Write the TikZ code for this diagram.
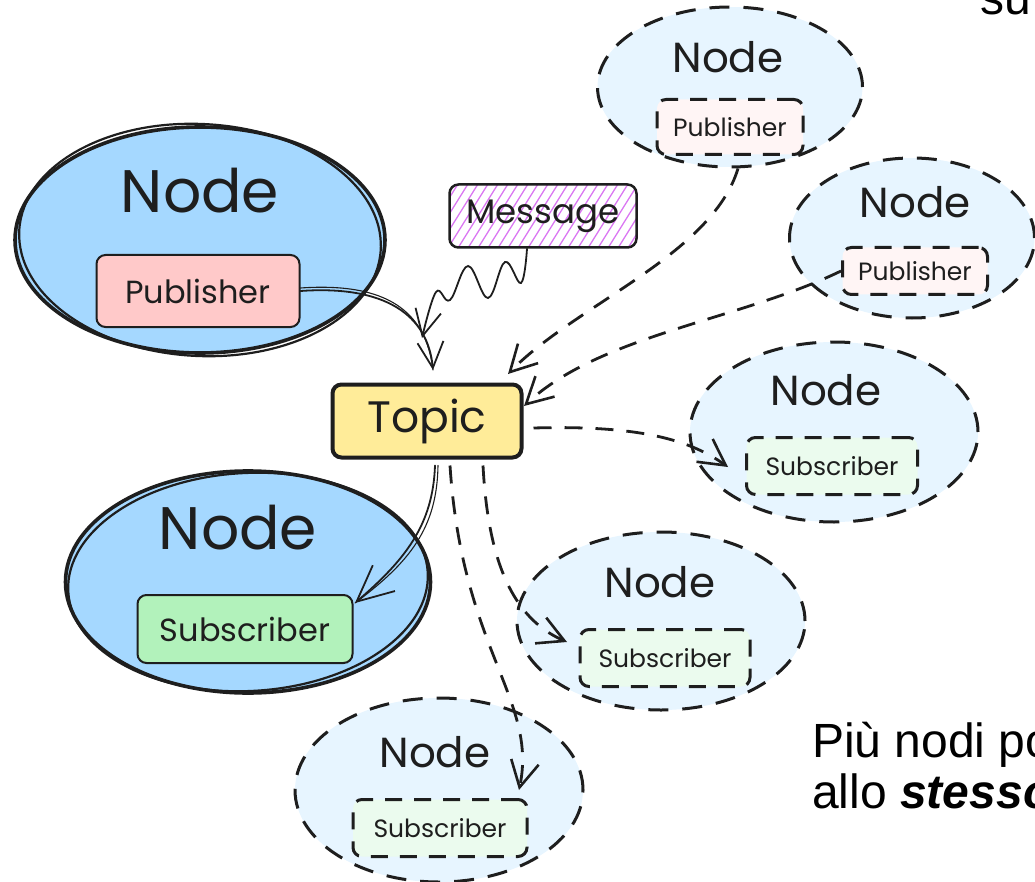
\documentclass[tikz,border=0pt]{standalone}
\usepackage{fontspec}
\setmainfont{Poppins}
\newfontfamily\notefont{Liberation Sans}
\usetikzlibrary{shapes.geometric,arrows.meta,calc}

\definecolor{ink}{HTML}{1E1E1E}
\definecolor{procfill}{HTML}{A5D8FF}
\definecolor{proclight}{HTML}{E7F5FF}
\definecolor{pubfill}{HTML}{FFC9C9}
\definecolor{publight}{HTML}{FFF5F5}
\definecolor{subfill}{HTML}{B2F2BB}
\definecolor{sublight}{HTML}{EBFBEE}
\definecolor{topicfill}{HTML}{FFEC99}
\definecolor{hatchcol}{HTML}{DA77F2}

\tikzset{
  procsolid/.style={ellipse, draw=ink, fill=procfill, line width=3.6pt, inner sep=0pt},
  procdash/.style={ellipse, draw=ink, fill=proclight, line width=3pt,
    dash pattern=on 20pt off 14pt, inner sep=0pt},
  boxsolid/.style={draw=ink, rounded corners=9pt, line width=2pt, inner sep=0pt, text=ink},
  boxdash/.style={draw=ink, rounded corners=9pt, line width=3pt,
    dash pattern=on 17pt off 12pt, inner sep=0pt, text=ink},
  bigtitle/.style={inner sep=0pt, text=ink, font=\fontsize{60}{60}\selectfont},
  smalltitle/.style={inner sep=0pt, text=ink, font=\fontsize{42}{42}\selectfont},
  bigrole/.style={font=\fontsize{32}{32}\selectfont},
  smallrole/.style={font=\fontsize{25}{25}\selectfont},
  link/.style={draw=ink, line width=1.8pt, line cap=round,
    -{Straight Barb[length=26pt,width=26pt,line width=1.8pt]}},
  linkbig/.style={draw=ink, line width=1.8pt, line cap=round,
    -{Straight Barb[length=36pt,width=34pt,line width=1.8pt]}},
  linkecho/.style={draw=ink, line width=1.1pt, line cap=round},
  dlink/.style={draw=ink, line width=2.8pt, dash pattern=on 18pt off 13pt,
    -{Straight Barb[length=26pt,width=28pt,line width=2.6pt]}},
  note/.style={inner sep=0pt, anchor=base west, text=black,
    font=\notefont\fontsize{48}{48}\selectfont},
}

\begin{document}
\begin{tikzpicture}[x=1pt,y=-1pt]
\useasboundingbox (0,0) rectangle (1035,882);
\clip (0,0) rectangle (1035,882);

% ---- solid process bubbles (left) ----
\node[procsolid, minimum width=370pt, minimum height=226pt] (procpub) at (200,240) {};
\draw[ink, line width=2.2pt, rotate around={-3:(procpub.center)}]
  (procpub.center) ellipse [x radius=181pt, y radius=116pt];
\node[bigtitle] (procpubT) at (200,191) {Node};
\node[boxsolid, fill=pubfill, minimum width=203pt, minimum height=72pt, bigrole]
  (pub) at (198,291) {Publisher};

\node[procsolid, minimum width=365pt, minimum height=222pt] (procsub) at (248,582) {};
\draw[ink, line width=2.2pt, rotate around={3:(procsub.center)}]
  (procsub.center) ellipse [x radius=180pt, y radius=109pt];
\node[bigtitle] (procsubT) at (238,528) {Node};
\node[boxsolid, fill=subfill, minimum width=215pt, minimum height=68pt, bigrole]
  (sub) at (245,629) {Subscriber};

% ---- dashed process bubbles ----
\node[procdash, minimum width=265pt, minimum height=160pt] (nA) at (730,87) {};
\node[smalltitle] (nAT) at (728,57) {Node};
\node[boxdash, fill=publight, minimum width=146pt, minimum height=55pt, smallrole]
  (pA) at (730,127) {Publisher};

\node[procdash, minimum width=245pt, minimum height=160pt] (nB) at (912,238) {};
\node[smalltitle] (nBT) at (915,202) {Node};
\node[boxdash, fill=publight, minimum width=145pt, minimum height=47pt, smallrole]
  (pB) at (915,271) {Publisher};

\node[procdash, minimum width=288pt, minimum height=180pt] (nC) at (834,432) {};
\node[smalltitle] (nCT) at (826,390) {Node};
\node[boxdash, fill=sublight, minimum width=171pt, minimum height=57pt, smallrole]
  (sC) at (832,466) {Subscriber};

\node[procdash, minimum width=288pt, minimum height=178pt] (nD) at (661,621) {};
\node[smalltitle] (nDT) at (660,582) {Node};
\node[boxdash, fill=sublight, minimum width=170pt, minimum height=57pt, smallrole]
  (sD) at (665,658) {Subscriber};

\node[procdash, minimum width=288pt, minimum height=184pt] (nE) at (439,790) {};
\node[smalltitle] (nET) at (435,752) {Node};
\node[boxdash, fill=sublight, minimum width=174pt, minimum height=57pt, smallrole]
  (sE) at (440,828) {Subscriber};

% ---- topic ----
\node[boxsolid, fill=topicfill, line width=4pt, minimum width=189pt, minimum height=73pt,
  font=\fontsize{44}{44}\selectfont] (topic) at (427,421) {Topic};

% ---- message with hatched fill ----
\coordinate (msgc) at (543,216);
\begin{scope}
  \clip[rounded corners=9pt] ($(msgc)+(-93,-31)$) rectangle ($(msgc)+(93,31)$);
  \foreach \k in {-150,-140,...,120}
    \draw[hatchcol, line width=1.3pt] ($(msgc)+(\k,40)$) -- ++(50,-80);
\end{scope}
\node[boxsolid, line width=2.5pt, minimum width=187pt, minimum height=63pt,
  font=\fontsize{34}{34}\selectfont] (msg) at (msgc) {Message};

% ---- connector end points ----
\coordinate (tipPub) at (433,370);
\coordinate (tipMsg) at (422,338);
\coordinate (tipA) at (508,374);
\coordinate (tipB) at (524,406);
\coordinate (tipC) at (728,467);
\coordinate (tipD) at (567,642);
\coordinate (tipE) at (519,790);
\coordinate (tipL) at (355,603);

% ---- solid connectors ----
\draw[link] (pub.east) .. controls (385,285) and (428,315) .. (tipPub);
\draw[linkecho] ([yshift=3pt]pub.east) .. controls (388,282) and (426,312) .. (tipPub);

\draw[link] plot[smooth, tension=0.65] coordinates
  {([xshift=-16pt]msg.south) (521,283) (505,262) (488,298) (468,266) (450,300) (436,292) (tipMsg)};

\draw[linkbig] ([shift={(8,6)}]topic.south) .. controls (433,525) and (405,560) .. (tipL);
\draw[linkecho] ([shift={(11,6)}]topic.south) .. controls (437,528) and (410,562) .. (tipL);

% ---- dashed connectors ----
\draw[dlink] ([xshift=8pt]nA.south) .. controls (712,255) and (575,305) .. (tipA);
\draw[dlink] (pB.west) .. controls (740,320) and (600,335) .. (tipB);
\draw[dlink] ([shift={(10,7)}]topic.east) .. controls (640,425) and (690,440) .. (tipC);
\draw[dlink] ([shift={(56,6)}]topic.south) .. controls (488,560) and (512,618) .. (tipD);
\draw[dlink] ([shift={(23,6)}]topic.south) .. controls (462,650) and (538,700) .. (tipE);

% ---- notes ----
\node[note] (noteTop) at (980,15) {su};
\node[note] (noteA) at (812,757) {Più nodi po};
\node[note] (noteB) at (812,808) {allo \textbf{\textit{stesso}}};
\end{tikzpicture}
\end{document}
